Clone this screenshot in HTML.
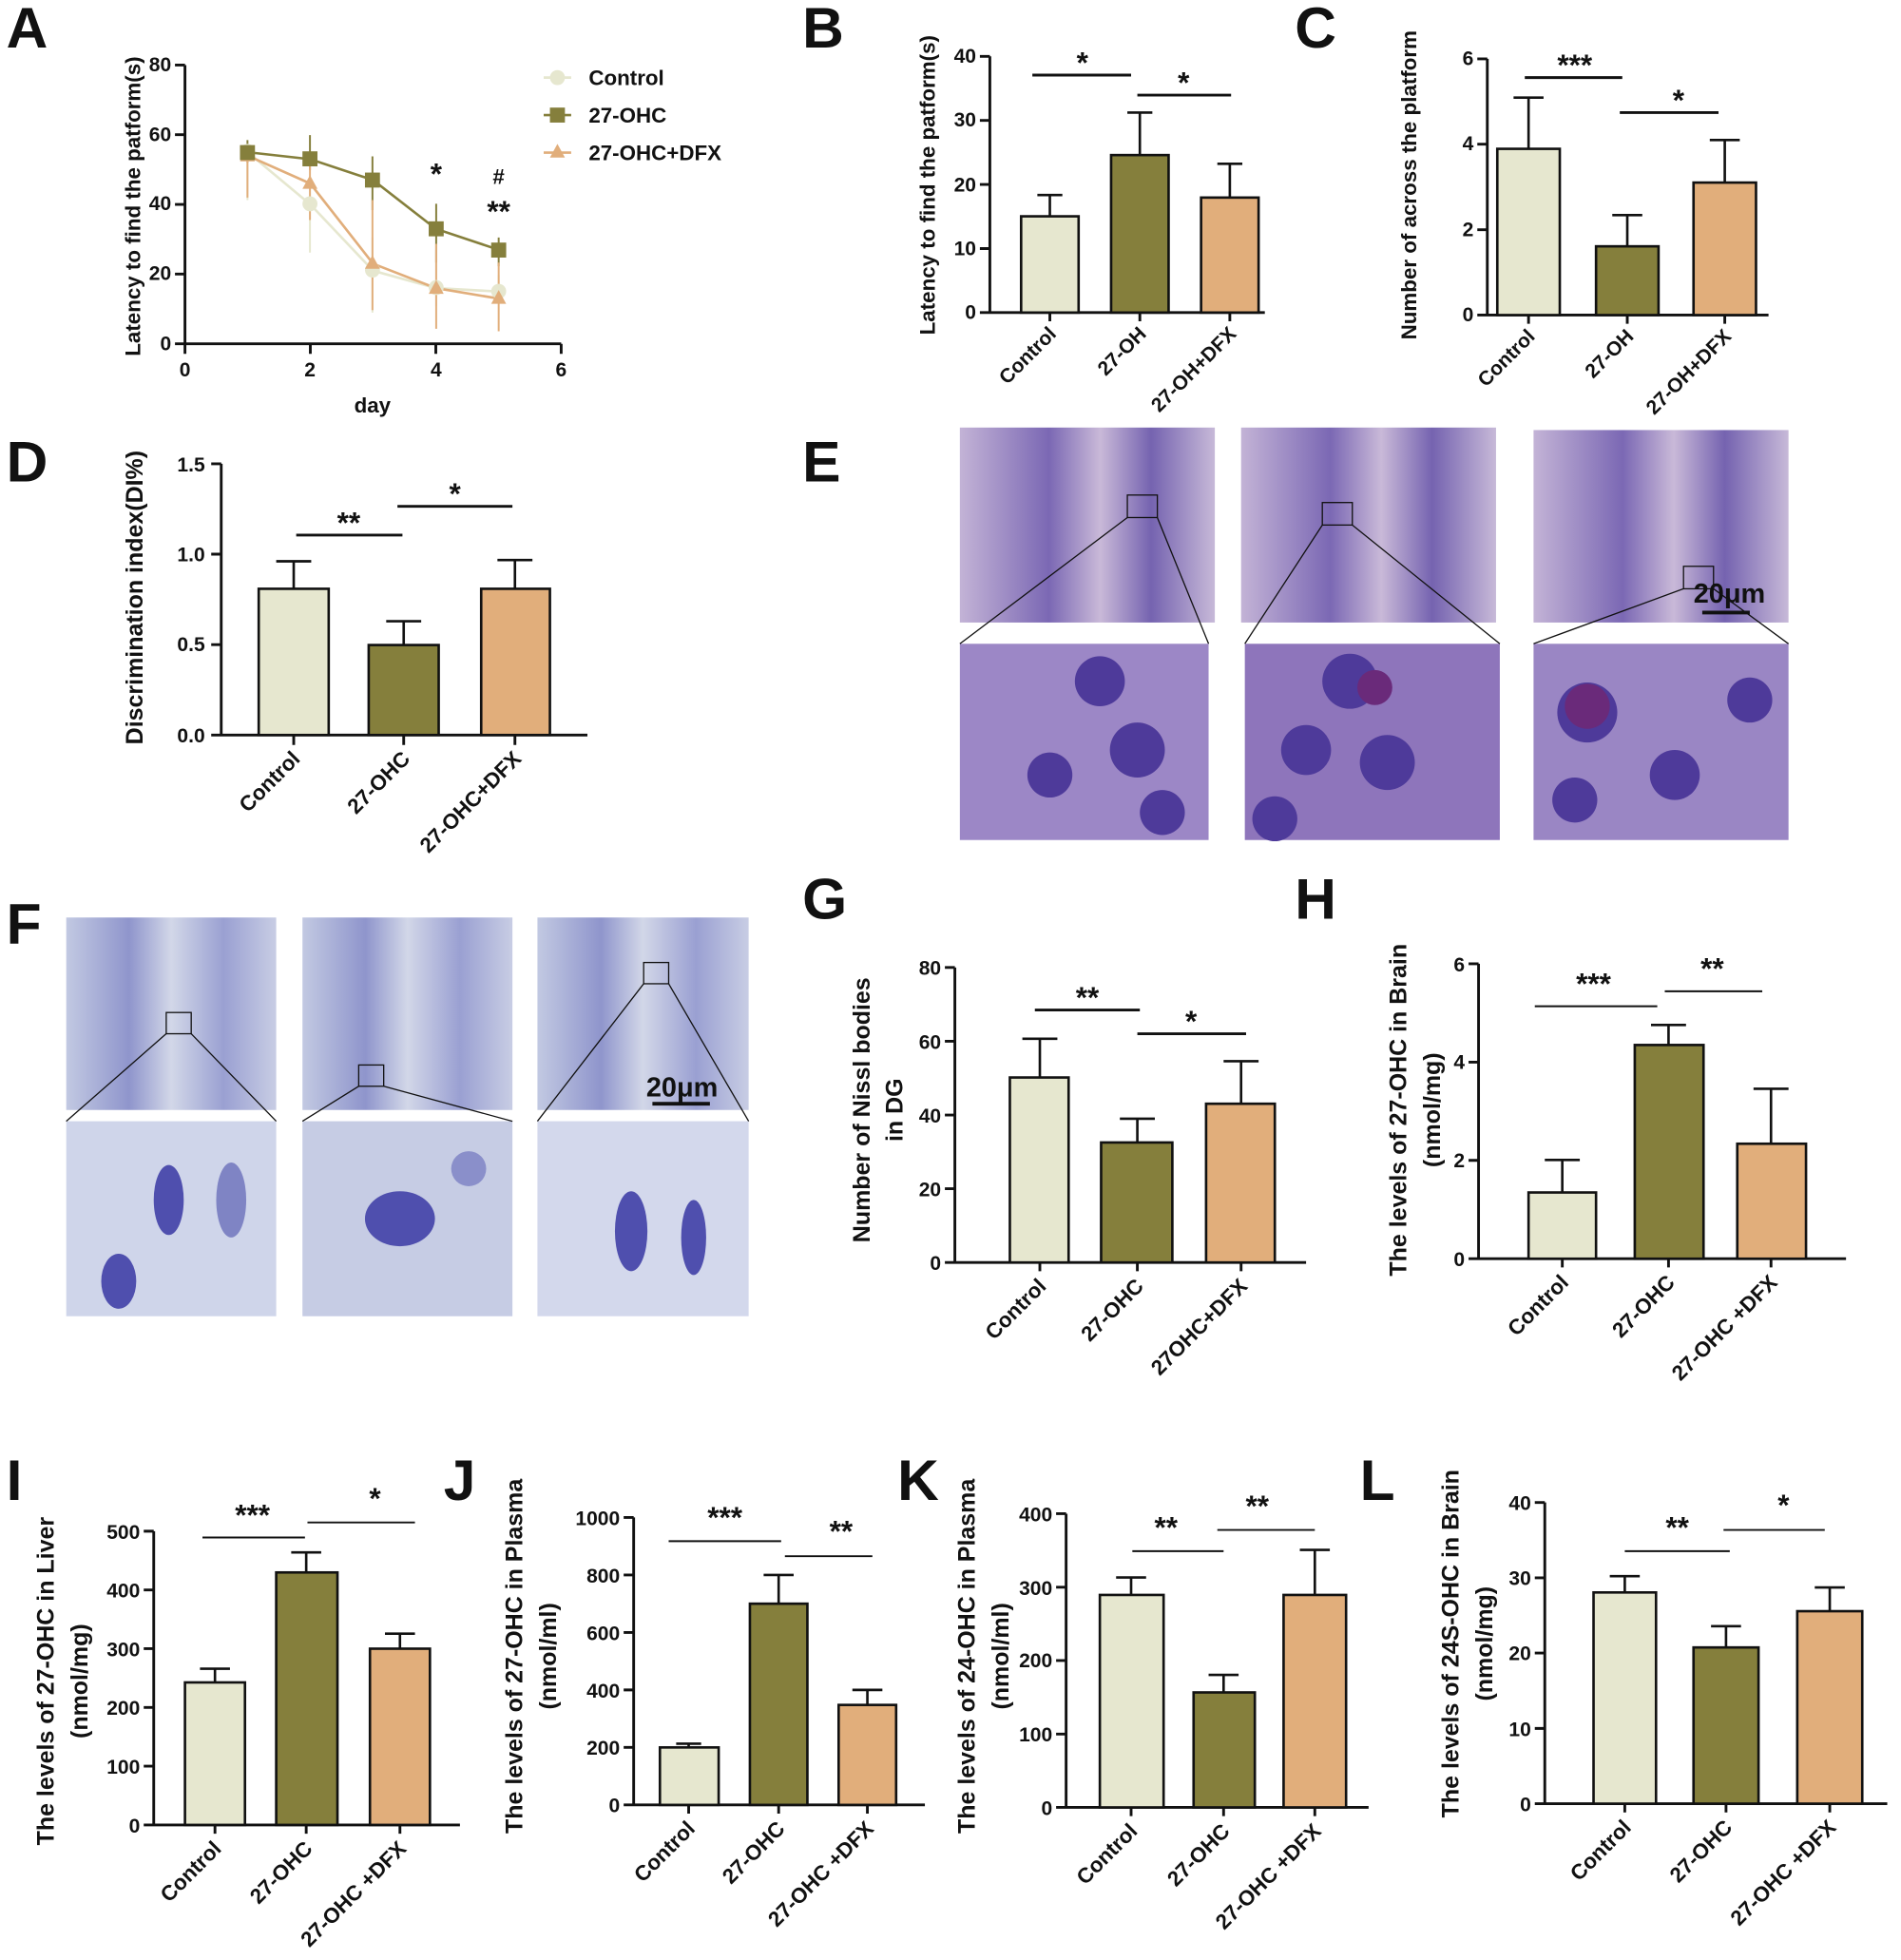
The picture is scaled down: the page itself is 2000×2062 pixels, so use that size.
<!DOCTYPE html>
<html><head><meta charset="utf-8"><style>
html,body{margin:0;padding:0;background:#fff}
svg{display:block}
text{font-family:"Liberation Sans",Arial,sans-serif;font-weight:bold;fill:#111}
.t{font-size:16px;font-family:"Liberation Sans Narrow","Liberation Sans",sans-serif}
.ax{font-size:17px}
.L{font-size:46px;font-family:"Liberation Sans",sans-serif}
.s{font-size:24px;text-anchor:middle}
.a{stroke:#111;stroke-width:2.2;fill:none}
.c{fill:#e6e7cf;stroke:#111;stroke-width:2}
.o{fill:#857f3c;stroke:#111;stroke-width:2}
.d{fill:#e1ae7b;stroke:#111;stroke-width:2}
.e{stroke:#111;stroke-width:2;fill:none}
.sg{stroke:#111;stroke-width:2.2}
</style></head><body>
<svg width="2000" height="2062" viewBox="0 0 1521 1568" xmlns="http://www.w3.org/2000/svg">
<defs>
<linearGradient id="ge" x1="0" y1="0" x2="1" y2="0"><stop offset="0" stop-color="#c3b3d6"/><stop offset="0.35" stop-color="#7b68b4"/><stop offset="0.55" stop-color="#c9b9d8"/><stop offset="0.75" stop-color="#7563b0"/><stop offset="1" stop-color="#c7b9d8"/></linearGradient>
<linearGradient id="gf" x1="0" y1="0" x2="1" y2="0"><stop offset="0" stop-color="#c2c9e2"/><stop offset="0.3" stop-color="#8f95cc"/><stop offset="0.5" stop-color="#d2d7e8"/><stop offset="0.75" stop-color="#9aa0d2"/><stop offset="1" stop-color="#c8cde4"/></linearGradient>
</defs>
<!-- Letters -->
<text class="L" x="5" y="38">A</text><text class="L" x="642" y="38">B</text><text class="L" x="1036" y="38">C</text>
<text class="L" x="5" y="385">D</text><text class="L" x="642" y="385">E</text>
<text class="L" x="5" y="755">F</text><text class="L" x="642" y="735">G</text><text class="L" x="1036" y="735">H</text>
<text class="L" x="5" y="1200">I</text><text class="L" x="355" y="1200">J</text><text class="L" x="718" y="1200">K</text><text class="L" x="1088" y="1200">L</text>

<!-- A -->
<path class="a" d="M148,52V275H449M140,52H148M140,107.7H148M140,163.5H148M140,219.2H148M140,275H148M148,275V283M248.3,275V283M348.7,275V283M449,275V283"/>
<g class="t" text-anchor="end"><text x="137" y="57">80</text><text x="137" y="113">60</text><text x="137" y="168">40</text><text x="137" y="224">20</text><text x="137" y="280">0</text></g>
<g class="t" text-anchor="middle"><text x="148" y="301">0</text><text x="248" y="301">2</text><text x="349" y="301">4</text><text x="449" y="301">6</text></g>
<text class="ax" x="298" y="330" text-anchor="middle">day</text>
<text class="ax" transform="translate(112,165) rotate(-90)" text-anchor="middle">Latency to find the patform(s)</text>
<g stroke-width="1.5">
<path stroke="#e6e7cf" d="M198,115V160M248,150V202M298,190V250M349,200V245M399,220V240"/>
<path stroke="#857f3c" d="M198,112V130M248,108V136M298,125V168M349,163V210M399,190V213"/>
<path stroke="#e1ae7b" d="M198,118V158M248,124V176M298,160V248M349,195V263M399,210V265"/>
</g>
<polyline fill="none" stroke="#e6e7cf" stroke-width="2" points="198.2,121.7 248.3,163.5 298.5,216.5 348.7,230.4 398.8,233.2"/>
<polyline fill="none" stroke="#e1ae7b" stroke-width="2" points="198.2,124.5 248.3,146.8 298.5,210.9 348.7,230.4 398.8,238.8"/>
<polyline fill="none" stroke="#857f3c" stroke-width="2" points="198.2,121.7 248.3,127.3 298.5,144 348.7,183 398.8,199.7"/>
<g fill="#e6e7cf"><circle cx="198" cy="121" r="6"/><circle cx="248" cy="163" r="6"/><circle cx="298" cy="216" r="6"/><circle cx="349" cy="230" r="6"/><circle cx="399" cy="233" r="6"/></g>
<g fill="#e1ae7b"><path d="M198,118l6,11h-12zM248,140l6,11h-12zM298,204l6,11h-12zM349,224l6,11h-12zM399,232l6,11h-12z"/></g>
<g fill="#857f3c"><rect x="192" y="116" width="12" height="12"/><rect x="242" y="121" width="12" height="12"/><rect x="292" y="138" width="12" height="12"/><rect x="343" y="177" width="12" height="12"/><rect x="393" y="194" width="12" height="12"/></g>
<text x="349" y="147" class="s" font-size="18">*</text><text x="399" y="147" font-size="17" text-anchor="middle">#</text><text x="399" y="177" class="s" font-size="18">**</text>
<line x1="435" y1="62" x2="457" y2="62" stroke="#e6e7cf" stroke-width="2"/><circle cx="446" cy="62" r="6" fill="#e6e7cf"/><text x="471" y="68" class="t" style="font-size:17px">Control</text>
<line x1="435" y1="92" x2="457" y2="92" stroke="#857f3c" stroke-width="2"/><rect x="440" y="86" width="12" height="12" fill="#857f3c"/><text x="471" y="98" class="t" style="font-size:17px">27-OHC</text>
<line x1="435" y1="122" x2="457" y2="122" stroke="#e1ae7b" stroke-width="2"/><path d="M446,115l6,11h-12z" fill="#e1ae7b"/><text x="471" y="128" class="t" style="font-size:17px">27-OHC+DFX</text>

<!-- B -->
<path class="a" d="M792,45V250H1012M784,45H792M784,96.3H792M784,147.5H792M784,198.8H792M784,250H792M840,250V257M912,250V257M984,250V257"/>
<g class="t" text-anchor="end"><text x="781" y="50">40</text><text x="781" y="101">30</text><text x="781" y="153">20</text><text x="781" y="204">10</text><text x="781" y="255">0</text></g>
<path class="e" d="M840,156V173M830,156H850M912,90V124M902,90H922M984,131V158M974,131H994"/>
<rect class="c" x="817" y="173" width="46" height="77"/><rect class="o" x="889" y="124" width="46" height="126"/><rect class="d" x="961" y="158" width="46" height="92"/>
<line class="sg" x1="826" y1="60" x2="905" y2="60"/><text class="s" x="866" y="58">*</text>
<line class="sg" x1="910" y1="76" x2="985" y2="76"/><text class="s" x="947" y="74">*</text>
<text class="ax" transform="translate(748,148) rotate(-90)" text-anchor="middle">Latency to find the patform(s)</text>
<g class="t" text-anchor="end"><text transform="translate(846,268) rotate(-45)">Control</text><text transform="translate(918,268) rotate(-45)">27-OH</text><text transform="translate(990,268) rotate(-45)">27-OH+DFX</text></g>

<!-- C -->
<path class="a" d="M1190,47V252H1415M1182,47H1190M1182,115.3H1190M1182,183.7H1190M1182,252H1190M1223,252V259M1302,252V259M1380,252V259"/>
<g class="t" text-anchor="end"><text x="1179" y="52">6</text><text x="1179" y="120">4</text><text x="1179" y="189">2</text><text x="1179" y="257">0</text></g>
<path class="e" d="M1223,78V119M1211,78H1235M1302,172V197M1290,172H1314M1380,112V146M1368,112H1392"/>
<rect class="c" x="1198" y="119" width="50" height="133"/><rect class="o" x="1277" y="197" width="50" height="55"/><rect class="d" x="1355" y="146" width="50" height="106"/>
<line class="sg" x1="1220" y1="62" x2="1298" y2="62"/><text class="s" x="1260" y="60">***</text>
<line class="sg" x1="1296" y1="90" x2="1375" y2="90"/><text class="s" x="1343" y="88">*</text>
<text class="ax" transform="translate(1133,148) rotate(-90)" text-anchor="middle">Number of  across the platform</text>
<g class="t" text-anchor="end"><text transform="translate(1229,270) rotate(-45)">Control</text><text transform="translate(1308,270) rotate(-45)">27-OH</text><text transform="translate(1386,270) rotate(-45)">27-OH+DFX</text></g>

<!-- D -->
<path class="a" d="M177,371V588H470M169,371H177M169,443.3H177M169,515.7H177M169,588H177M235,588V596M323,588V596M412,588V596"/>
<g class="t" text-anchor="end"><text x="164" y="377">1.5</text><text x="164" y="449">1.0</text><text x="164" y="521">0.5</text><text x="164" y="594">0.0</text></g>
<path class="e" d="M235,449V471M221,449H249M323,497V516M309,497H337M412,448V471M398,448H426"/>
<rect class="c" x="207" y="471" width="56" height="117"/><rect class="o" x="295" y="516" width="56" height="72"/><rect class="d" x="385" y="471" width="55" height="117"/>
<line class="sg" x1="237" y1="428" x2="322" y2="428"/><text class="s" x="279" y="426">**</text>
<line class="sg" x1="318" y1="405" x2="410" y2="405"/><text class="s" x="364" y="403">*</text>
<text class="ax" transform="translate(114,478) rotate(-90)" text-anchor="middle" style="font-size:19px">Discrimination index(DI%)</text>
<g class="t" text-anchor="end" style="font-size:17px"><text transform="translate(241,608) rotate(-45)">Control</text><text transform="translate(329,608) rotate(-45)">27-OHC</text><text transform="translate(418,608) rotate(-45)">27-OHC+DFX</text></g>

<!-- E -->
<g>
<rect x="768" y="342" width="204" height="156" fill="url(#ge)"/><rect x="993" y="342" width="204" height="156" fill="url(#ge)"/><rect x="1227" y="344" width="204" height="154" fill="url(#ge)"/>
<rect x="768" y="515" width="199" height="157" fill="#9c87c6"/><rect x="996" y="515" width="204" height="157" fill="#8e75bb"/><rect x="1227" y="515" width="204" height="157" fill="#9a86c4"/>
<g fill="#4e3a9a"><circle cx="880" cy="545" r="20"/><circle cx="910" cy="600" r="22"/><circle cx="840" cy="620" r="18"/><circle cx="930" cy="650" r="18"/><circle cx="1080" cy="545" r="22"/><circle cx="1045" cy="600" r="20"/><circle cx="1110" cy="610" r="22"/><circle cx="1020" cy="655" r="18"/><circle cx="1270" cy="570" r="24"/><circle cx="1340" cy="620" r="20"/><circle cx="1260" cy="640" r="18"/><circle cx="1400" cy="560" r="18"/></g>
<g fill="#6a2a7a"><circle cx="1100" cy="550" r="14"/><circle cx="1270" cy="565" r="18"/></g>
<g stroke="#111" stroke-width="1" fill="none"><rect x="902" y="396" width="24" height="18"/><path d="M902,414L768,515M926,414L967,515"/><rect x="1058" y="402" width="24" height="18"/><path d="M1058,420L996,515M1082,420L1200,515"/><rect x="1347" y="453" width="24" height="18"/><path d="M1347,471L1227,515M1371,471L1431,515"/></g>
<line x1="1362" y1="490" x2="1400" y2="490" stroke="#111" stroke-width="3"/><text x="1355" y="482" style="font-size:22px">20μm</text>
</g>

<!-- F -->
<g>
<rect x="53" y="734" width="168" height="154" fill="url(#gf)"/><rect x="242" y="734" width="168" height="154" fill="url(#gf)"/><rect x="430" y="734" width="169" height="154" fill="url(#gf)"/>
<rect x="53" y="897" width="168" height="156" fill="#cfd5ea"/><rect x="242" y="897" width="168" height="156" fill="#c6cce4"/><rect x="430" y="897" width="169" height="156" fill="#d3d8ec"/>
<g fill="#4f4fae"><ellipse cx="135" cy="960" rx="12" ry="28"/><ellipse cx="95" cy="1025" rx="14" ry="22"/><ellipse cx="185" cy="960" rx="12" ry="30" fill="#7f84c4"/><ellipse cx="320" cy="975" rx="28" ry="22"/><ellipse cx="375" cy="935" rx="14" ry="14" fill="#8a8fca"/><ellipse cx="505" cy="985" rx="13" ry="32"/><ellipse cx="555" cy="990" rx="10" ry="30"/></g>
<g stroke="#111" stroke-width="1" fill="none"><rect x="133" y="810" width="20" height="17"/><path d="M133,827L53,897M153,827L221,897"/><rect x="287" y="852" width="20" height="17"/><path d="M287,869L242,897M307,869L410,897"/><rect x="515" y="770" width="20" height="17"/><path d="M515,787L430,897M535,787L599,897"/></g>
<line x1="522" y1="883" x2="568" y2="883" stroke="#111" stroke-width="3"/><text x="517" y="877" style="font-size:22px">20μm</text>
</g>

<!-- G -->
<path class="a" d="M764,774V1010H1045M756,774H764M756,833H764M756,892H764M756,951H764M756,1010H764M832,1010V1017M910,1010V1017M993,1010V1017"/>
<g class="t" text-anchor="end"><text x="753" y="780">80</text><text x="753" y="839">60</text><text x="753" y="898">40</text><text x="753" y="957">20</text><text x="753" y="1016">0</text></g>
<path class="e" d="M832,831V862M818,831H846M910,895V914M896,895H924M993,849V883M979,849H1007"/>
<rect class="c" x="808" y="862" width="47" height="148"/><rect class="o" x="881" y="914" width="57" height="96"/><rect class="d" x="965" y="883" width="55" height="127"/>
<line class="sg" x1="828" y1="808" x2="912" y2="808"/><text class="s" x="870" y="806">**</text>
<line class="sg" x1="910" y1="827" x2="997" y2="827"/><text class="s" x="953" y="825">*</text>
<text class="ax" transform="translate(696,888) rotate(-90)" text-anchor="middle" style="font-size:19px">Number of Nissl bodies</text>
<text class="ax" transform="translate(722,888) rotate(-90)" text-anchor="middle" style="font-size:19px">in DG</text>
<g class="t" text-anchor="end" style="font-size:17px"><text transform="translate(838,1030) rotate(-45)">Control</text><text transform="translate(916,1030) rotate(-45)">27-OHC</text><text transform="translate(999,1030) rotate(-45)">27OHC+DFX</text></g>

<!-- H -->
<path class="a" d="M1183,771V1007H1477M1175,771H1183M1175,849.7H1183M1175,928.3H1183M1175,1007H1183M1250,1007V1014M1335,1007V1014M1417,1007V1014"/>
<g class="t" text-anchor="end"><text x="1172" y="777">6</text><text x="1172" y="855">4</text><text x="1172" y="934">2</text><text x="1172" y="1013">0</text></g>
<path class="e" d="M1250,928V954M1236,928H1264M1335,820V836M1321,820H1349M1417,871V915M1403,871H1431"/>
<rect class="c" x="1223" y="954" width="54" height="53"/><rect class="o" x="1308" y="836" width="55" height="171"/><rect class="d" x="1390" y="915" width="55" height="92"/>
<line x1="1228" y1="805" x2="1326" y2="805" stroke="#111" stroke-width="1.5"/><text class="s" x="1275" y="795">***</text>
<line x1="1332" y1="793" x2="1410" y2="793" stroke="#111" stroke-width="1.5"/><text class="s" x="1370" y="783">**</text>
<text class="ax" transform="translate(1125,888) rotate(-90)" text-anchor="middle" style="font-size:19px">The levels of 27-OHC in Brain</text>
<text class="ax" transform="translate(1152,888) rotate(-90)" text-anchor="middle" style="font-size:19px">(nmol/mg)</text>
<g class="t" text-anchor="end" style="font-size:17px"><text transform="translate(1256,1027) rotate(-45)">Control</text><text transform="translate(1341,1027) rotate(-45)">27-OHC</text><text transform="translate(1423,1027) rotate(-45)">27-OHC +DFX</text></g>

<!-- I -->
<path class="a" d="M123,1225V1460H368M115,1225H123M115,1272H123M115,1319H123M115,1366H123M115,1413H123M115,1460H123M172,1460V1467M245,1460V1467M320,1460V1467"/>
<g class="t" text-anchor="end"><text x="112" y="1231">500</text><text x="112" y="1278">400</text><text x="112" y="1325">300</text><text x="112" y="1372">200</text><text x="112" y="1419">100</text><text x="112" y="1466">0</text></g>
<path class="e" d="M172,1335V1346M160,1335H184M245,1242V1258M233,1242H257M320,1307V1319M308,1307H332"/>
<rect class="c" x="148" y="1346" width="48" height="114"/><rect class="o" x="221" y="1258" width="49" height="202"/><rect class="d" x="296" y="1319" width="48" height="141"/>
<line x1="162" y1="1230" x2="244" y2="1230" stroke="#111" stroke-width="1.5"/><text class="s" x="202" y="1220">***</text>
<line x1="246" y1="1218" x2="332" y2="1218" stroke="#111" stroke-width="1.5"/><text class="s" x="300" y="1207">*</text>
<text class="ax" transform="translate(43,1345) rotate(-90)" text-anchor="middle" style="font-size:19px">The levels of 27-OHC in Liver</text>
<text class="ax" transform="translate(70,1345) rotate(-90)" text-anchor="middle" style="font-size:19px">(nmol/mg)</text>
<g class="t" text-anchor="end" style="font-size:17px"><text transform="translate(178,1480) rotate(-45)">Control</text><text transform="translate(251,1480) rotate(-45)">27-OHC</text><text transform="translate(326,1480) rotate(-45)">27-OHC +DFX</text></g>

<!-- J -->
<path class="a" d="M507,1214V1444H740M499,1214H507M499,1260H507M499,1306H507M499,1352H507M499,1398H507M499,1444H507M551,1444V1451M623,1444V1451M694,1444V1451"/>
<g class="t" text-anchor="end"><text x="496" y="1220">1000</text><text x="496" y="1266">800</text><text x="496" y="1312">600</text><text x="496" y="1358">400</text><text x="496" y="1404">200</text><text x="496" y="1450">0</text></g>
<path class="e" d="M551,1395V1398M541,1395H561M623,1260V1283M611,1260H635M694,1352V1364M682,1352H706"/>
<rect class="c" x="528" y="1398" width="47" height="46"/><rect class="o" x="600" y="1283" width="46" height="161"/><rect class="d" x="671" y="1364" width="46" height="80"/>
<line x1="535" y1="1233" x2="625" y2="1233" stroke="#111" stroke-width="1.5"/><text class="s" x="580" y="1222">***</text>
<line x1="628" y1="1245" x2="698" y2="1245" stroke="#111" stroke-width="1.5"/><text class="s" x="673" y="1233">**</text>
<text class="ax" transform="translate(418,1325) rotate(-90)" text-anchor="middle" style="font-size:19px">The levels of 27-OHC in Plasma</text>
<text class="ax" transform="translate(445,1325) rotate(-90)" text-anchor="middle" style="font-size:19px">(nmol/ml)</text>
<g class="t" text-anchor="end" style="font-size:17px"><text transform="translate(557,1464) rotate(-45)">Control</text><text transform="translate(629,1464) rotate(-45)">27-OHC</text><text transform="translate(700,1464) rotate(-45)">27-OHC +DFX</text></g>

<!-- K -->
<path class="a" d="M853,1211V1446H1095M845,1211H853M845,1269.8H853M845,1328.5H853M845,1387.3H853M845,1446H853M905,1446V1453M979,1446V1453M1052,1446V1453"/>
<g class="t" text-anchor="end"><text x="842" y="1217">400</text><text x="842" y="1276">300</text><text x="842" y="1334">200</text><text x="842" y="1393">100</text><text x="842" y="1452">0</text></g>
<path class="e" d="M905,1262V1276M893,1262H917M979,1340V1354M967,1340H991M1052,1240V1276M1040,1240H1064"/>
<rect class="c" x="880" y="1276" width="51" height="170"/><rect class="o" x="955" y="1354" width="49" height="92"/><rect class="d" x="1027" y="1276" width="50" height="170"/>
<line x1="906" y1="1241" x2="979" y2="1241" stroke="#111" stroke-width="1.5"/><text class="s" x="933" y="1230">**</text>
<line x1="974" y1="1224" x2="1052" y2="1224" stroke="#111" stroke-width="1.5"/><text class="s" x="1006" y="1213">**</text>
<text class="ax" transform="translate(780,1325) rotate(-90)" text-anchor="middle" style="font-size:19px">The levels of 24-OHC in Plasma</text>
<text class="ax" transform="translate(807,1325) rotate(-90)" text-anchor="middle" style="font-size:19px">(nmol/ml)</text>
<g class="t" text-anchor="end" style="font-size:17px"><text transform="translate(911,1466) rotate(-45)">Control</text><text transform="translate(985,1466) rotate(-45)">27-OHC</text><text transform="translate(1058,1466) rotate(-45)">27-OHC +DFX</text></g>

<!-- L -->
<path class="a" d="M1236,1202V1443H1510M1228,1202H1236M1228,1262.3H1236M1228,1322.5H1236M1228,1382.8H1236M1228,1443H1236M1300,1443V1450M1381,1443V1450M1464,1443V1450"/>
<g class="t" text-anchor="end"><text x="1225" y="1208">40</text><text x="1225" y="1268">30</text><text x="1225" y="1328">20</text><text x="1225" y="1389">10</text><text x="1225" y="1449">0</text></g>
<path class="e" d="M1300,1261V1274M1288,1261H1312M1381,1301V1318M1369,1301H1393M1464,1270V1289M1452,1270H1476"/>
<rect class="c" x="1275" y="1274" width="50" height="169"/><rect class="o" x="1355" y="1318" width="52" height="125"/><rect class="d" x="1438" y="1289" width="52" height="154"/>
<line x1="1300" y1="1241" x2="1384" y2="1241" stroke="#111" stroke-width="1.5"/><text class="s" x="1342" y="1230">**</text>
<line x1="1379" y1="1224" x2="1460" y2="1224" stroke="#111" stroke-width="1.5"/><text class="s" x="1427" y="1212">*</text>
<text class="ax" transform="translate(1167,1315) rotate(-90)" text-anchor="middle" style="font-size:19px">The levels of 24S-OHC in Brain</text>
<text class="ax" transform="translate(1194,1315) rotate(-90)" text-anchor="middle" style="font-size:19px">(nmol/mg)</text>
<g class="t" text-anchor="end" style="font-size:17px"><text transform="translate(1306,1463) rotate(-45)">Control</text><text transform="translate(1387,1463) rotate(-45)">27-OHC</text><text transform="translate(1470,1463) rotate(-45)">27-OHC +DFX</text></g>
</svg>
</body></html>
